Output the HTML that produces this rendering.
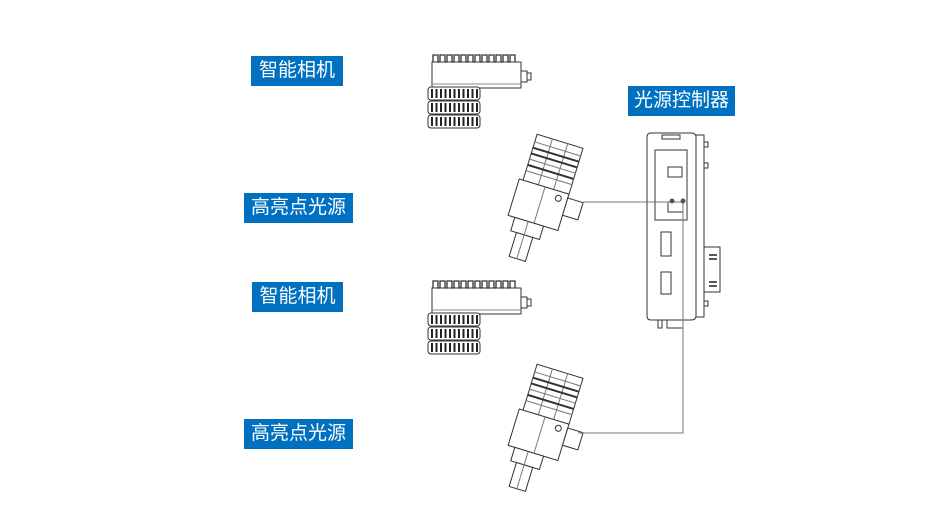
<!DOCTYPE html>
<html><head><meta charset="utf-8"><style>
html,body{margin:0;padding:0;background:#fff;width:951px;height:520px;overflow:hidden}
.l{position:absolute;background:#0070c0;color:#fff;font-family:"Liberation Sans","Noto Sans CJK SC",sans-serif;font-size:19px;line-height:30px;text-align:center;height:30px}
svg{position:absolute;left:0;top:0}
</style></head><body>
<svg width="951" height="520" viewBox="0 0 951 520" fill="none" stroke="#333" stroke-width="1">
<defs>
<g id="cam">
 <path d="M432 62 V88 H521 V62 Z" fill="#fff"/>
 <path d="M433 62 v-7 h5 v7 h2 v-7 h5 v7 h2 v-7 h5 v7 h2 v-7 h5 v7 h2 v-7 h5 v7 h2 v-7 h5 v7 h2 v-7 h5 v7 h2 v-7 h5 v7 h2 v-7 h5 v7 h2 v-7 h5 v7 h2 v-7 h5 v7 h2 v-7 h5 v7" stroke-width="1.3"/>
 <line x1="432" y1="84" x2="521" y2="84" stroke="#888"/>
 <rect x="521" y="71" width="6" height="11" fill="#fff"/>
 <rect x="527" y="73" width="4" height="7" fill="#fff"/>
 <g fill="#fff">
  <rect x="428" y="87" width="52" height="13" rx="3"/>
  <rect x="428" y="101" width="52" height="13" rx="3"/>
  <rect x="428" y="115" width="52" height="13" rx="3"/>
 </g>
 <g stroke="#222" stroke-width="2">
  <path d="M432 89v9M436.5 89v9M441 89v9M445.5 89v9M450 89v9M454.5 89v9M459 89v9M463.5 89v9M468 89v9M472.5 89v9M477 89v9"/>
  <path d="M432 103v9M436.5 103v9M441 103v9M445.5 103v9M450 103v9M454.5 103v9M459 103v9M463.5 103v9M468 103v9M472.5 103v9M477 103v9"/>
  <path d="M432 117v9M436.5 117v9M441 117v9M445.5 117v9M450 117v9M454.5 117v9M459 117v9M463.5 117v9M468 117v9M472.5 117v9M477 117v9"/>
 </g>
</g>
<g id="light">
 <g transform="rotate(17 540 200)">
  <rect x="518" y="138" width="48" height="48" fill="#fff"/>
  <path d="M518 146h48M518 164h48M518 176h48M534 138v48M550 138v48" stroke="#777"/>
  <path d="M518 152h48M518 158h48M518 170h48" stroke="#333" stroke-width="2"/>
  <rect x="514" y="186" width="52" height="38" fill="#fff"/>
  <line x1="541" y1="186" x2="541" y2="224" stroke="#777"/>
  <circle cx="557" cy="193" r="3"/>
  <rect x="566" y="190" width="16" height="18" fill="#fff"/>
  <rect x="521" y="224" width="30" height="14" fill="#fff"/>
  <rect x="527" y="238" width="17" height="25" fill="#fff"/>
  <line x1="535" y1="224" x2="535" y2="263" stroke="#777"/>
 </g>
</g>
</defs>
<use href="#cam"/>
<use href="#cam" transform="translate(0 226)"/>
<use href="#light"/>
<use href="#light" transform="translate(0 230)"/>
<!-- controller -->
<rect x="696" y="135" width="8" height="182" fill="#fff"/>
<path d="M647 137 Q647 133 651 133 H691 Q696 133 696 137 V316 Q696 320 691 320 H651 Q647 320 647 316 Z" fill="#fff"/>
<rect x="662" y="135" width="18" height="4"/>
<rect x="655" y="150" width="32" height="70"/>
<rect x="668" y="167" width="14" height="10"/>
<rect x="668" y="202" width="15" height="10"/>
<rect x="661" y="232" width="10" height="24"/>
<rect x="661" y="272" width="10" height="22"/>
<rect x="704" y="142" width="4" height="5"/>
<rect x="704" y="163" width="4" height="5"/>
<rect x="704" y="301" width="4" height="5"/>
<rect x="704" y="247" width="16" height="45" fill="#fff"/>
<path d="M709 255h8M709 259h8M709 282h8M709 286h8" stroke="#222" stroke-width="1.5"/>
<path d="M658 320v8h4v-8M667 320v8h16v-8"/>
<!-- wires -->
<g stroke="#777">
 <path d="M583 202 H683 V433 H578"/>
</g>
<circle cx="672" cy="201" r="2.5" fill="#555" stroke="none"/>
<circle cx="683" cy="201" r="2.5" fill="#555" stroke="none"/>
</svg>
<div class="l" style="left:251px;top:56px;width:92px">智能相机</div>
<div class="l" style="left:244px;top:193px;width:109px">高亮点光源</div>
<div class="l" style="left:252px;top:282px;width:91px">智能相机</div>
<div class="l" style="left:244px;top:419px;width:109px">高亮点光源</div>
<div class="l" style="left:628px;top:86px;width:107px">光源控制器</div>
</body></html>
